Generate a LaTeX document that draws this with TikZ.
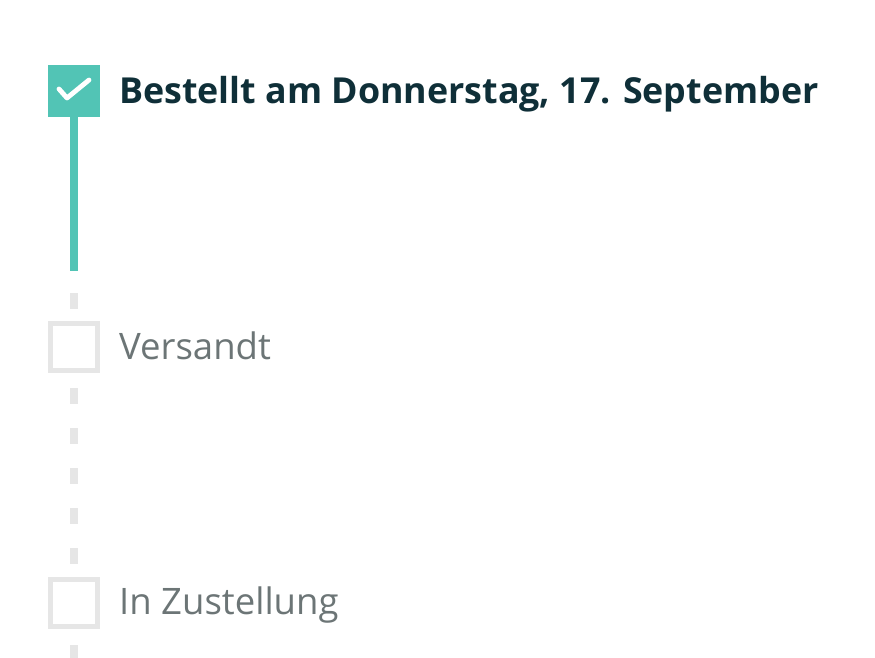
\documentclass[tikz,border=0pt]{standalone}
\usepackage{fontspec}
\setmainfont{Open Sans}
\definecolor{tealc}{HTML}{52C4B5}
\definecolor{darkt}{HTML}{0F2F38}
\definecolor{grayt}{HTML}{6C7576}
\definecolor{lightg}{HTML}{E6E6E6}
\tikzset{
  donebox/.style={fill=tealc, draw=none, minimum size=52pt, inner sep=0pt, outer sep=0pt},
  openbox/.style={draw=lightg, line width=5pt, minimum size=47pt, inner sep=0pt, outer sep=2.5pt},
  label1/.style={anchor=base west, text=darkt, font=\fontsize{35.8}{40}\selectfont\bfseries, inner sep=0pt},
  label2/.style={anchor=base west, text=grayt, font=\fontsize{36.5}{40}\selectfont, inner sep=0pt},
  solidline/.style={draw=tealc, line width=7.5pt},
  dashline/.style={draw=lightg, line width=7.5pt, dash pattern=on 16pt off 24pt},
}
\begin{document}
\begin{tikzpicture}[x=1pt,y=-1pt]
\useasboundingbox (0,0) rectangle (875,658);
\node[donebox] (b1) at (74,91) {};
\node[openbox] (b2) at (74,347) {};
\node[openbox] (b3) at (74,603) {};
\draw[white, line width=4.8pt, line cap=round, line join=round] (59,89) -- (67,98) -- (89,80);
\node[label1] (t1) at (119,104) {Bestellt am Donnerstag, 17. September};
\node[label2] (t2) at (119,359) {Versandt};
\node[label2] (t3) at (119,614) {In Zustellung};
\coordinate (l1) at (74,271);
\draw[solidline] (b1.south) -- (l1);
\coordinate (d1) at (74,293);
\draw[dashline] (d1) -- (b2.north);
\coordinate (d2) at (74,388);
\coordinate (d3) at (74,566);
\draw[dashline] (d2) -- (d3);
\coordinate (d4) at (74,645);
\coordinate (d5) at (74,662);
\draw[dashline] (d4) -- (d5);
\end{tikzpicture}
\end{document}
